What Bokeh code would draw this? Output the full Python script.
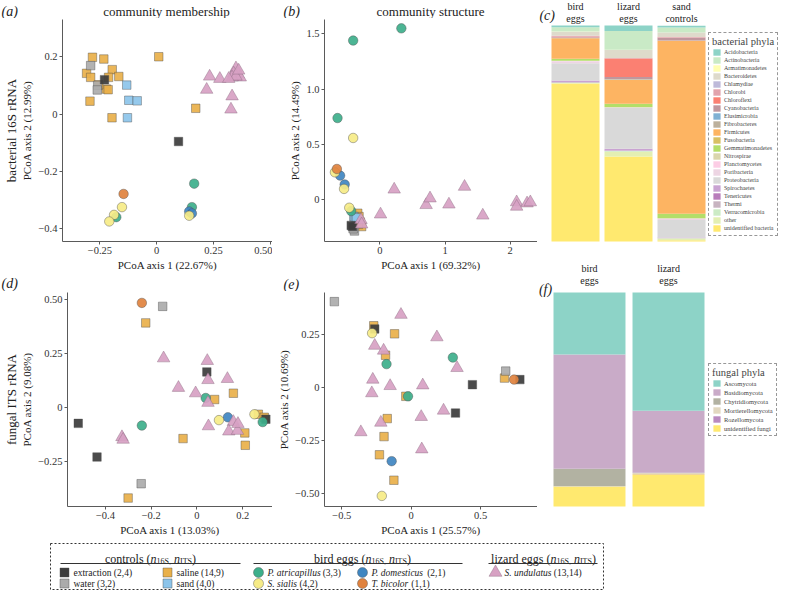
from bokeh.plotting import figure
from bokeh.layouts import row, column
from bokeh.models import Range1d, FixedTicker, LinearAxis, Legend, LegendItem, ColumnDataSource
from bokeh.core.properties import value
from bokeh.embed import file_html
from bokeh.resources import INLINE

SERIF = "Liberation Serif"

# ---------------- sample groups ----------------
groups = ["saline", "sand", "water", "extraction", "P. atricapillus", "P. domesticus",
          "S. sialis", "T. bicolor", "S. undulatus"]
group_marker = {"saline": "square", "sand": "square", "water": "square", "extraction": "square",
                "P. atricapillus": "circle", "P. domesticus": "circle", "S. sialis": "circle",
                "T. bicolor": "circle", "S. undulatus": "triangle"}
group_color = {"extraction": "#3C3C3C", "water": "#ABABAB", "saline": "#E9B04A", "sand": "#8CC4EA",
               "P. atricapillus": "#3DAF8B", "P. domesticus": "#3F86C1", "S. sialis": "#F6EB87",
               "T. bicolor": "#E0823E", "S. undulatus": "#D7A1C3"}
group_counts = {"extraction": "(2,4)", "water": "(3,2)", "saline": "(14,9)", "sand": "(4,0)",
                "P. atricapillus": "(3,3)", "P. domesticus": "(2,1)", "S. sialis": "(4,2)",
                "T. bicolor": "(1,1)", "S. undulatus": "(13,14)"}

# ---------------- (a) bacterial membership ----------------
a_pts = {
    "saline": ([-0.283, -0.233, -0.309, -0.291, -0.196, -0.212, -0.167, -0.222, -0.214, -0.294, -0.197, 0.009, 0.172, -0.255],
               [0.198, 0.192, 0.142, 0.128, 0.155, 0.128, 0.131, 0.087, 0.085, 0.045, -0.013, 0.200, 0.020, 0.102]),
    "sand": ([-0.132, -0.123, -0.086, -0.129], [0.101, 0.048, 0.046, -0.013]),
    "water": ([-0.291, -0.260, -0.262], [0.169, 0.100, 0.084]),
    "extraction": ([-0.230, 0.096], [0.120, -0.096]),
    "P. atricapillus": ([0.165, 0.155, -0.178], [-0.243, -0.325, -0.360]),
    "P. domesticus": ([0.143, 0.155], [-0.340, -0.347]),
    "S. sialis": ([-0.153, -0.188, -0.209, 0.143], [-0.325, -0.352, -0.375, -0.355]),
    "T. bicolor": ([-0.146], [-0.279]),
    "S. undulatus": ([0.233, 0.278, 0.220, 0.332, 0.327, 0.349, 0.339, 0.358, 0.368, 0.332, 0.349, 0.317, 0.361],
                     [0.131, 0.123, 0.085, 0.062, 0.016, 0.160, 0.142, 0.139, 0.128, 0.128, 0.131, 0.123, 0.152]),
}
a_xticks, a_xlabels = [-0.25, 0.0, 0.25, 0.5], ["\u22120.25", "0", "0.25", "0.50"]
a_yticks, a_ylabels = [-0.4, -0.2, 0.0, 0.2], ["\u22120.4", "\u22120.2", "0", "0.2"]

# ---------------- (b) bacterial structure ----------------
b_pts = {
    "saline": ([-0.34, -0.32, -0.30, -0.28, -0.36, -0.33], [-0.12, -0.15, -0.20, -0.24, -0.18, -0.22]),
    "sand": ([-0.40, -0.38, -0.36], [-0.15, -0.17, -0.16]),
    "water": ([-0.39, -0.41], [-0.28, -0.26]),
    "extraction": ([-0.44, -0.42], [-0.23, -0.24]),
    "P. atricapillus": ([-0.41, 0.33, -0.65, -0.44], [1.44, 1.55, 0.74, -0.10]),
    "P. domesticus": ([-0.61, -0.54], [0.22, 0.14]),
    "S. sialis": ([-0.41, -0.69, -0.55, -0.47], [0.56, 0.25, 0.10, -0.07]),
    "T. bicolor": ([-0.66], [0.28]),
    "S. undulatus": ([0.01, 0.22, 0.71, 0.77, 1.06, 1.30, 1.58, 2.10, 2.10, 2.26, 2.31, -0.29, -0.28],
                     [-0.13, 0.095, -0.045, 0.015, -0.04, 0.12, -0.14, -0.02, -0.06, -0.03, -0.02, -0.18, -0.22]),
}
b_xticks, b_xlabels = [0.0, 1.0, 2.0], ["0", "1", "2"]
b_yticks, b_ylabels = [0.0, 0.5, 1.0, 1.5], ["0", "0.5", "1.0", "1.5"]

# ---------------- (d) fungal membership ----------------
d_pts = {
    "saline": ([-0.224, 0.077, 0.159, -0.061, 0.209, 0.211, 0.268, 0.294, -0.301],
               [0.390, 0.037, 0.066, -0.143, -0.117, -0.174, -0.031, -0.045, -0.417]),
    "water": ([-0.150, -0.244], [0.466, -0.351]),
    "extraction": ([0.043, -0.519, -0.437, 0.301], [0.164, -0.073, -0.228, -0.054]),
    "P. atricapillus": ([0.038, -0.241, 0.287], [0.044, -0.083, -0.067]),
    "P. domesticus": ([0.135], [-0.045]),
    "S. sialis": ([0.096, 0.251], [-0.058, -0.031]),
    "T. bicolor": ([-0.241], [0.482]),
    "S. undulatus": ([-0.146, 0.045, 0.048, 0.133, -0.081, -0.006, 0.048, 0.050, 0.159, 0.139, 0.177, 0.179, -0.328, -0.323],
                     [0.227, 0.215, 0.127, 0.132, 0.091, 0.066, 0.022, -0.086, -0.066, -0.110, -0.107, -0.075, -0.136, -0.148]),
}
d_xticks, d_xlabels = [-0.4, -0.2, 0.0, 0.2], ["\u22120.4", "\u22120.2", "0", "0.2"]
d_yticks, d_ylabels = [-0.25, 0.0, 0.25, 0.5], ["\u22120.25", "0", "0.25", "0.50"]

# ---------------- (e) fungal structure ----------------
e_pts = {
    "saline": ([-0.270, -0.120, -0.185, -0.039, -0.173, -0.196, -0.229, -0.125, 0.672],
               [0.293, 0.255, 0.154, -0.040, -0.145, -0.230, -0.316, -0.436, 0.046]),
    "water": ([-0.554, 0.681], [0.407, 0.079]),
    "extraction": ([-0.263, 0.441, 0.319, 0.783], [0.278, 0.015, -0.119, 0.039]),
    "P. atricapillus": ([-0.178, -0.023, 0.300], [0.112, -0.040, 0.143]),
    "P. domesticus": ([-0.141], [-0.346]),
    "S. sialis": ([-0.282, -0.212], [0.258, -0.510]),
    "T. bicolor": ([0.741], [0.039]),
    "S. undulatus": ([-0.074, 0.185, -0.263, -0.199, -0.277, -0.284, -0.152, 0.083, 0.330, 0.233, 0.072, -0.219, -0.363, 0.076],
                     [0.345, 0.239, 0.199, 0.176, 0.039, -0.025, 0.009, 0.012, 0.094, -0.107, -0.137, -0.164, -0.209, -0.290]),
}
e_xticks, e_xlabels = [-0.5, 0.0, 0.5], ["\u22120.5", "0", "0.5"]
e_yticks, e_ylabels = [-0.5, -0.25, 0.0, 0.25], ["\u22120.50", "\u22120.25", "0", "0.25"]

# ---------------- (c) bacterial phyla (% relative abundance) ----------------
bact_cats = ["bird\neggs", "lizard\neggs", "sand\ncontrols"]
bact_phyla = ["Acidobacteria", "Actinobacteria", "Armatimonadetes", "Bacteroidetes", "Chlamydiae",
              "Chlorobi", "Chloroflexi", "Cyanobacteria", "Elusimicrobia", "Fibrobacteres", "Firmicutes",
              "Fusobacteria", "Gemmatimonadetes", "Nitrospirae", "Planctomycetes", "Poribacteria",
              "Proteobacteria", "Spirochaetes", "Tenericutes", "Thermi", "Verrucomicrobia", "other",
              "unidentified bacteria"]
bact_colors = ["#8DD3C7", "#C9EAC6", "#FFFFB3", "#DEDACB", "#BEBADA", "#E2A3AC", "#FB8072", "#C0979E",
               "#80B1D3", "#BCB09C", "#FDB462", "#D8C063", "#B3DE69", "#DAD6AC", "#FCCDE5", "#EDD5E3",
               "#D9D9D9", "#C9A3D2", "#B97CBB", "#C7B3C0", "#CCEBC5", "#E3EFB3", "#FFE96F"]
bird_bact = [0.8, 2.0, 0.1, 1.8, 0.1, 0.4, 0.2, 0.3, 0.1, 0.1, 9.5, 0.1, 0.8, 0.1, 0.1, 1.0, 8.0, 0.7, 0.1, 0.1, 0.2, 0.2, 73.2]
lizard_bact = [2.6, 8.6, 0.1, 3.7, 0.1, 0.2, 8.6, 0.9, 0.1, 0.1, 11.2, 0.1, 1.5, 0.1, 0.1, 0.2, 18.9, 0.8, 0.1, 0.1, 0.3, 2.3, 39.3]
sand_bact = [0.8, 2.3, 0.1, 2.0, 0.1, 0.2, 0.2, 1.1, 0.1, 0.1, 80.0, 0.1, 2.0, 0.1, 0.1, 0.6, 8.2, 0.1, 0.1, 0.1, 0.1, 0.8, 0.6]

# ---------------- (f) fungal phyla ----------------
fung_cats = ["bird\neggs", "lizard\neggs"]
fung_phyla = ["Ascomycota", "Basidiomycota", "Chytridiomycota", "Mortierellomycota", "Rozellomycota",
              "unidentified fungi"]
fung_colors = ["#8DD3C7", "#C9ABC8", "#B2B2A2", "#E2D8C0", "#B98AC0", "#FFE96F"]
bird_fung = [29.0, 53.4, 8.1, 0.1, 0.1, 9.3]
lizard_fung = [55.3, 28.9, 0.1, 0.5, 0.1, 15.1]

# ---------------- helpers ----------------
CW = {' ': .25, '(': .333, ')': .333, ',': .25, '.': .25, 'a': .444, 'b': .5, 'c': .444, 'd': .5, 'e': .444,
      'f': .333, 'g': .5, 'h': .5, 'i': .278, 'j': .278, 'k': .5, 'l': .278, 'm': .778, 'n': .5, 'o': .5,
      'p': .5, 'q': .5, 'r': .333, 's': .389, 't': .278, 'u': .5, 'v': .5, 'w': .722, 'x': .5, 'y': .5,
      'z': .444, 'I': .333, 'T': .611, 'S': .556, 'P': .611}


def tw(s, size):
    return sum(CW.get(ch, 0.5) for ch in s) * size


def blank(w, h):
    p = figure(width=w, height=h, x_range=Range1d(0, w), y_range=Range1d(h, 0),
               output_backend="svg", toolbar_location=None, x_axis_location=None, y_axis_location=None,
               min_border=0)
    p.xgrid.visible = False
    p.ygrid.visible = False
    p.outline_line_color = None
    return p


def txt(p, x, y, s, size, style="normal", align="left", baseline="middle"):
    p.text(x=[x], y=[y], text=[s], text_font=value(SERIF), text_font_size=size, text_font_style=style,
           text_align=align, text_baseline=baseline, text_color="#222222")


def style_axis(ax, ticks, labels):
    ax.ticker = FixedTicker(ticks=ticks)
    ax.major_label_overrides = dict(zip(ticks, labels))
    ax.minor_tick_line_color = None
    ax.major_tick_in = 0
    ax.major_tick_out = 3
    ax.axis_line_color = "#5a5a5a"
    ax.major_tick_line_color = "#5a5a5a"
    ax.major_label_text_font = SERIF
    ax.major_label_text_font_size = "10.5px"
    ax.major_label_text_color = "#333333"
    ax.major_label_standoff = 2
    ax.axis_label_text_font = SERIF
    ax.axis_label_text_font_style = "normal"
    ax.axis_label_text_font_size = "11px"
    ax.axis_label_text_color = "#222222"
    ax.axis_label_standoff = 2


def scatter_panel(pts, w, h, bl, bt, bb, xr, yr, xt, xtl, yt, ytl, xlab, ylab, side):
    p = figure(width=w, height=h, x_range=Range1d(*xr), y_range=Range1d(*yr), output_backend="svg",
               toolbar_location=None, min_border_left=bl, min_border_right=0, min_border_top=bt,
               min_border_bottom=bb)
    p.xgrid.visible = False
    p.ygrid.visible = False
    p.outline_line_color = None
    style_axis(p.xaxis[0], xt, xtl)
    style_axis(p.yaxis[0], yt, ytl)
    p.xaxis.axis_label = xlab
    p.yaxis.axis_label = ylab
    if side:
        ax2 = LinearAxis(ticker=FixedTicker(ticks=[]), axis_label=side, axis_line_color=None,
                         major_tick_line_color=None, minor_tick_line_color=None, major_tick_out=0,
                         major_tick_in=0, major_label_standoff=0, major_label_text_font_size="0px",
                         axis_label_text_font=SERIF, axis_label_text_font_style="normal",
                         axis_label_text_font_size="13px", axis_label_text_color="#222222",
                         axis_label_standoff=0)
        p.add_layout(ax2, "left")
    for g in groups:
        if g not in pts:
            continue
        xs, ys = pts[g]
        m = group_marker[g]
        size = {"square": 8.5, "circle": 9.5, "triangle": 12.5}[m]
        lc = "#8a6a80" if m == "triangle" else "#4d4d4d"
        p.scatter(xs, ys, marker=m, size=size, fill_color=group_color[g], fill_alpha=0.92,
                  line_color=lc, line_alpha=0.7, line_width=0.6)
    return p


def bar_panel(cats, phyla, colors, series, w, h, xr, yr, bar_w, leg_title, leg_loc, letter, line_y,
              letter_xy, leg_font, item_h, spacing):
    p = figure(width=w, height=h, x_range=Range1d(*xr), y_range=Range1d(*yr), output_backend="svg",
               toolbar_location=None, x_axis_location=None, y_axis_location=None, min_border=0)
    p.xgrid.visible = False
    p.ygrid.visible = False
    p.outline_line_color = None
    xs = list(range(len(cats)))
    data = {"x": xs}
    for j, name in enumerate(phyla):
        data[name] = [s[j] for s in series]
    src = ColumnDataSource(data)
    stack = list(reversed(phyla))
    rs = p.vbar_stack(stack, x="x", width=bar_w, fill_color=list(reversed(colors)), line_color=None,
                      source=src)
    items = [LegendItem(label=n, renderers=[r]) for n, r in zip(stack, rs)]
    items.reverse()
    leg = Legend(items=items, location=leg_loc, title=leg_title, title_text_font=SERIF,
                 title_text_font_size="10.5px", title_text_font_style="normal", title_standoff=1,
                 label_text_font=SERIF, label_text_font_size=leg_font, label_height=item_h,
                 glyph_height=item_h, glyph_width=9, label_standoff=3, spacing=spacing, padding=3,
                 margin=0, border_line_color="#333333", border_line_dash="2 2", border_line_width=1,
                 background_fill_alpha=1.0)
    p.add_layout(leg)
    tops = [c.split("\n")[0] for c in cats]
    bots = [c.split("\n")[1] for c in cats]
    for lines, yy in ((tops, line_y[0]), (bots, line_y[1])):
        p.text(x=xs, y=[yy] * len(xs), text=lines, text_font=value(SERIF), text_font_size="10px",
               text_align="center", text_baseline="middle", text_color="#222222")
    p.text(x=[letter_xy[0]], y=[letter_xy[1]], text=[letter], text_font=value(SERIF),
           text_font_size="14px", text_font_style="italic", text_align="left", text_baseline="middle",
           text_color="#222222")
    return p


# ---------------- scatter panels ----------------
pa = scatter_panel(a_pts, 272, 257, 60, 1, 34, (-0.415, 0.51), (-0.445, 0.33), a_xticks, a_xlabels,
                   a_yticks, a_ylabels, "PCoA axis 1 (22.67%)", "PCoA axis 2 (12.99%)", "bacterial 16S rRNA")
pb = scatter_panel(b_pts, 265, 257, 52, 1, 34, (-0.85, 2.42), (-0.375, 1.63), b_xticks, b_xlabels,
                   b_yticks, b_ylabels, "PCoA axis 1 (69.32%)", "PCoA axis 2 (14.49%)", None)
pd = scatter_panel(d_pts, 272, 249, 60, 1, 34, (-0.566, 0.33), (-0.456, 0.53), d_xticks, d_xlabels,
                   d_yticks, d_ylabels, "PCoA axis 1 (13.03%)", "PCoA axis 2 (9.08%)", "fungal ITS rRNA")
pe = scatter_panel(e_pts, 265, 249, 52, 1, 34, (-0.625, 0.91), (-0.56, 0.45), e_xticks, e_xlabels,
                   e_yticks, e_ylabels, "PCoA axis 1 (25.57%)", "PCoA axis 2 (10.69%)", None)

# headers with panel letters and titles
h1 = blank(537, 18)
txt(h1, 1, 11, "(a)", "14px", "italic")
txt(h1, 166, 11, "community membership", "13px", "normal", "center")
txt(h1, 283, 11, "(b)", "14px", "italic")
txt(h1, 430, 11, "community structure", "13px", "normal", "center")
h2 = blank(537, 16)
txt(h2, 1, 8, "(d)", "14px", "italic")
txt(h2, 283, 9, "(e)", "14px", "italic")

# ---------------- bar panels ----------------
pc = bar_panel(bact_cats, bact_phyla, bact_colors, [bird_bact, lizard_bact, sand_bact], 241, 262,
               (-0.717, 3.830), (-9.72, 111.57), 0.906, "bacterial phyla", (171, 26), "(c)",
               (108.8, 103.2), (-0.68, 104.6), "6px", 8, 0)
pf = bar_panel(fung_cats, fung_phyla, fung_colors, [bird_fung, lizard_fung], 241, 278,
               (-0.658, 2.392), (-15.89, 114.02), 0.911, "fungal phyla", (171, 104), "(f)",
               (111.2, 105.6), (-0.64, 101.6), "6.5px", 8, 1)

# ---------------- bottom legend ----------------
L = blank(778, 50)
L.quad(left=[50], right=[603], top=[3], bottom=[49], fill_color=None, line_color="#333333",
       line_dash="2 2", line_width=1)


def group_title(lbl, cx, base):
    parts = [(lbl + " (", 12, "normal", 0, 0), ("n", 12, "italic", 0, 0),
             ("16S,", 8, "normal", 3, 3), ("n", 12, "italic", 0, 0), ("ITS", 8, "normal", 3, 0),
             (")", 12, "normal", 0, 0)]
    widths = [tw(t, s) + g for t, s, st, dy, g in parts]
    x = cx - sum(widths) / 2
    for (t, s, st, dy, g), wd in zip(parts, widths):
        txt(L, x, base + dy, t, f"{s}px", st, "left", "alphabetic")
        x += wd


def item(g, x, y, italic):
    m = group_marker[g]
    size = {"square": 9, "circle": 10, "triangle": 13}[m]
    lc = "#8a6a80" if m == "triangle" else "#4d4d4d"
    L.scatter([x], [y], marker=m, size=size, fill_color=group_color[g], line_color=lc, line_alpha=0.7,
              line_width=0.6)
    tx = x + 9
    txt(L, tx, y, g, "9.5px", "italic" if italic else "normal")
    tx += tw(g + " ", 9.5)
    txt(L, tx, y, group_counts[g], "9.5px")


TB, UL, R1, R2 = 18, 23, 32, 43
group_title("controls", 150, TB)
L.segment(x0=[60], y0=[UL], x1=[240], y1=[UL], line_color="#333333", line_width=1)
item("extraction", 64, R1, False)
item("saline", 167, R1, False)
item("water", 64, R2, False)
item("sand", 167, R2, False)

group_title("bird eggs", 362, TB)
L.segment(x0=[253], y0=[UL], x1=[462], y1=[UL], line_color="#333333", line_width=1)
item("P. atricapillus", 258, R1, True)
item("P. domesticus", 362, R1, True)
item("S. sialis", 258, R2, True)
item("T. bicolor", 362, R2, True)

group_title("lizard eggs", 543, TB)
L.segment(x0=[488], y0=[UL], x1=[597], y1=[UL], line_color="#333333", line_width=1)
item("S. undulatus", 495, R1, True)

left = column(h1, row(pa, pb), h2, row(pd, pe))
right = column(pc, pf)
layout = column(row(left, right), L)
open("out.html", "w").write(file_html(layout, INLINE))
